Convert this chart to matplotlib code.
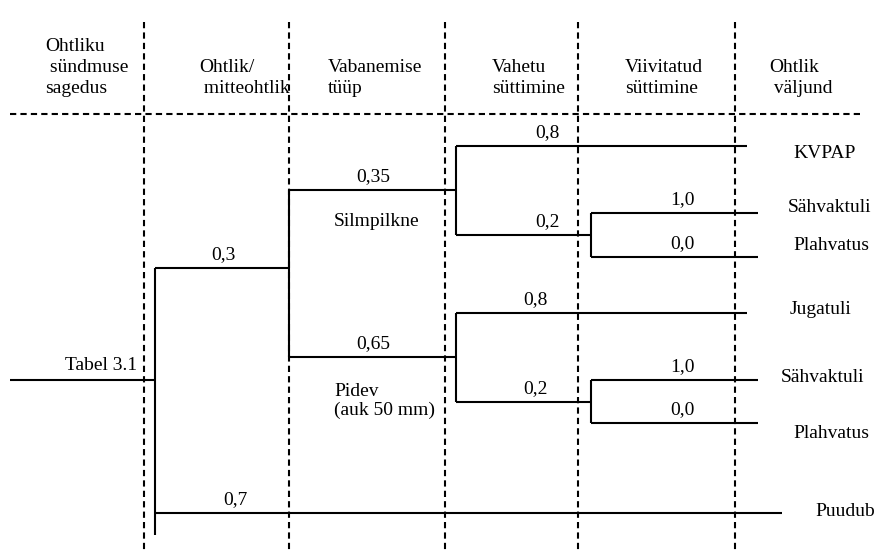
import matplotlib
matplotlib.use("Agg")
from matplotlib import pyplot as plt

plt.rcParams['font.family'] = ['Liberation Serif', 'DejaVu Serif']

# Veergude pealkirjad
headers = [
    "Ohtliku\n sündmuse\nsagedus",
    "Ohtlik/\n mitteohtlik",
    "Vabanemise\ntüüp",
    "Vahetu\nsüttimine",
    "Viivitatud\nsüttimine",
    "Ohtlik\n väljund",
]

# Tõenäosused
p_hazard = ["0,3", "0,7"]
p_release = ["0,35", "0,65"]
p_immediate = ["0,8", "0,2"]
p_delayed = ["1,0", "0,0"]

release_types = ["Silmpilkne", "Pidev\n(auk 50 mm)"]
outcomes_inst = ["KVPAP", "Sähvaktuli", "Plahvatus"]
outcomes_cont = ["Jugatuli", "Sähvaktuli", "Plahvatus"]
outcome_none = "Puudub"
start_label = "Tabel 3.1"

# paigutus (pikslites)
col_x = [144, 289, 445, 578, 735]
header_x = [45, 199, 328, 492, 625, 769]
header_bottom = 97
sep_y = 114

fs = 14

fig = plt.figure(figsize=(8.75, 5.52), dpi=100)
ax = fig.add_axes([0, 0, 1, 1])
ax.set_xlim(0, 875)
ax.set_ylim(552, 0)
ax.axis('off')

dash = dict(color='black', lw=1.5, linestyle=(0, (3, 2)))
solid = dict(color='black', lw=1.5, solid_capstyle='butt')

for x in col_x:
    ax.plot([x, x], [22, 552], **dash)
ax.plot([10, 860], [sep_y, sep_y], **dash)

for hx, h in zip(header_x, headers):
    ax.text(hx, header_bottom, h, fontsize=fs, va='bottom', ha='left',
            linespacing=1.3)

# algus
ax.plot([10, 155], [380, 380], **solid)
ax.text(137, 366, start_label, fontsize=fs, ha='right', va='center')

# ohtlik / mitteohtlik
ax.plot([155, 155], [268, 535], **solid)
ax.plot([155, 289], [268, 268], **solid)
ax.plot([155, 782], [513, 513], **solid)
ax.text(223, 255, p_hazard[0], fontsize=fs, ha='center', va='center')
ax.text(235, 500, p_hazard[1], fontsize=fs, ha='center', va='center')
ax.text(815, 511, outcome_none, fontsize=fs, ha='left', va='center')

# vabanemise tüüp
ax.plot([289, 289], [190, 357], **solid)
ax.plot([289, 456], [190, 190], **solid)
ax.plot([289, 456], [357, 357], **solid)
ax.text(373, 177, p_release[0], fontsize=fs, ha='center', va='center')
ax.text(373, 344, p_release[1], fontsize=fs, ha='center', va='center')
ax.text(377, 222, release_types[0], fontsize=fs, ha='center', va='center')
ax.text(334, 401, release_types[1], fontsize=fs, ha='left', va='center',
        linespacing=1.15)

# vahetu ja viivitatud süttimine
branches = [
    # y ülemine, y alumine, y ülemine2, y alumine2, väljundid, sildi x,
    # väljundite (x, y)
    (146, 235, 213, 257, outcomes_inst, 547,
     [(793, 154), (788, 207), (793, 246)]),
    (313, 402, 380, 423, outcomes_cont, 535,
     [(790, 310), (781, 377), (793, 433)]),
]
for y_up, y_dn, y_up2, y_dn2, outs, lx, out_pos in branches:
    ax.plot([456, 456], [y_up, y_dn], **solid)
    ax.plot([456, 747], [y_up, y_up], **solid)
    ax.plot([456, 591], [y_dn, y_dn], **solid)
    ax.text(lx, y_up - 13, p_immediate[0], fontsize=fs, ha='center', va='center')
    ax.text(lx, y_dn - 13, p_immediate[1], fontsize=fs, ha='center', va='center')
    ax.plot([591, 591], [y_up2, y_dn2], **solid)
    ax.plot([591, 758], [y_up2, y_up2], **solid)
    ax.plot([591, 758], [y_dn2, y_dn2], **solid)
    ax.text(682, y_up2 - 13, p_delayed[0], fontsize=fs, ha='center', va='center')
    ax.text(682, y_dn2 - 13, p_delayed[1], fontsize=fs, ha='center', va='center')
    for name, (ox, oy) in zip(outs, out_pos):
        ax.text(ox, oy, name, fontsize=fs, ha='left', va='center')

fig.savefig("out.png", dpi=100)
